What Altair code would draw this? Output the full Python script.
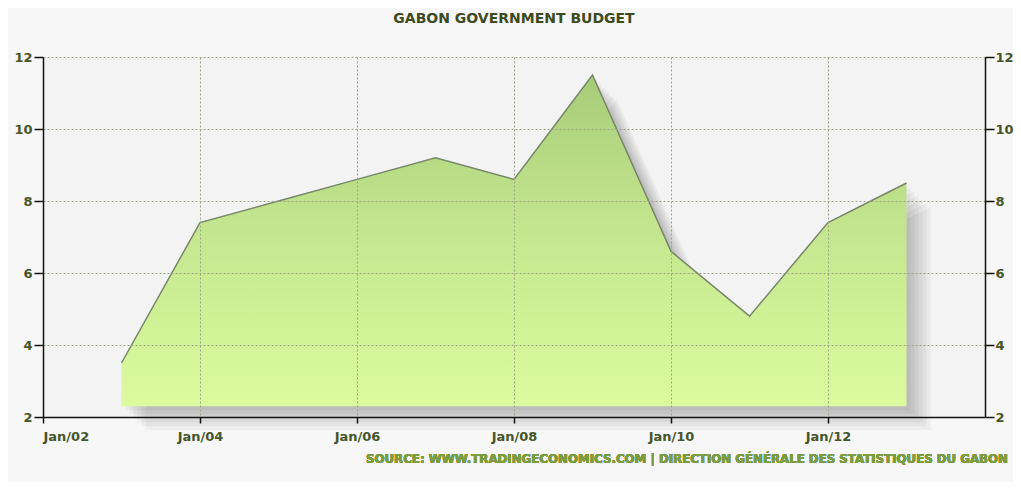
import altair as alt
import pandas as pd

years = [2003, 2004, 2005, 2006, 2007, 2008, 2009, 2010, 2011, 2012, 2013]
budget = [3.5, 7.4, 8.0, 8.6, 9.2, 8.6, 11.5, 6.6, 4.8, 7.4, 8.5]
baseline = 2.3
tick_years = [2002, 2004, 2006, 2008, 2010, 2012]
tick_labels = ["Jan/02", "Jan/04", "Jan/06", "Jan/08", "Jan/10", "Jan/12"]
y_ticks = [2, 4, 6, 8, 10, 12]

df = pd.DataFrame({"year": years, "value": budget, "base": [baseline] * len(years)})

label_expr = "[" + ",".join("'%s'" % t for t in tick_labels) + "][(datum.value - 2002) / 2]"

axis_common = dict(
    labelFont="DejaVu Sans", labelFontWeight="bold", labelFontSize=13,
    labelColor="#46552a", domainColor="#111111", domainWidth=1.5,
    tickColor="#111111", tickWidth=1.5,
    gridColor="#9ba48a", gridDash=[2, 2], gridWidth=1, zindex=1,
)

xscale = alt.Scale(domain=[2002, 2014], nice=False, zero=False)
xenc = alt.X("year:Q", scale=xscale,
             axis=alt.Axis(values=tick_years, labelExpr=label_expr, title=None,
                           tickSize=6, labelPadding=7, grid=True, **axis_common))

yscale = alt.Scale(domain=[2, 12], nice=False, zero=False)

base = alt.Chart(df)

shadows = [
    base.mark_area(color="#000000", opacity=0.04, xOffset=o, yOffset=o, y2Offset=o)
    .encode(x=xenc, y=alt.Y("value:Q", scale=yscale, axis=None), y2="base:Q")
    for o in [4, 8, 12, 16, 20, 24]
]

area = base.mark_area(
    opacity=1,
    color=alt.Gradient(gradient="linear", x1=0, y1=0, x2=0, y2=1,
                       stops=[alt.GradientStop(color="#a6cc78", offset=0),
                              alt.GradientStop(color="#c4e58e", offset=0.45),
                              alt.GradientStop(color="#dcfb9e", offset=1)]),
    line={"color": "#77876a", "strokeWidth": 1.5},
).encode(
    x=xenc,
    y=alt.Y("value:Q", scale=yscale,
            axis=alt.Axis(values=y_ticks, title=None, orient="left", tickSize=9,
                          labelPadding=2, grid=True, **axis_common)),
    y2="base:Q",
)

right = base.mark_line(opacity=0).encode(
    x=xenc,
    y=alt.Y("value:Q", scale=yscale,
            axis=alt.Axis(values=y_ticks, title=None, orient="right", tickSize=9,
                          labelPadding=1, grid=False, **axis_common)),
)

source = base.mark_text(
    text="SOURCE:  WWW.TRADINGECONOMICS.COM  |  DIRECTION GÉNÉRALE DES STATISTIQUES DU GABON",
    align="right", baseline="middle", font="DejaVu Sans", fontWeight="bold",
    fontSize=11.8, color="#7c9c42",
).encode(x=alt.value(965), y=alt.value(402))

chart = alt.layer(*shadows, area, right, source).resolve_scale(y="independent").properties(
    width=942, height=360,
    autosize=alt.AutoSizeParams(type="none"),
    padding={"left": 35, "top": 49, "right": 28, "bottom": 65},
    background="#f7f7f7",
    title=alt.TitleParams("GABON GOVERNMENT BUDGET", font="DejaVu Sans", fontWeight="bold",
                          fontSize=14, color="#3d4a1e", anchor="middle", offset=25),
).configure_view(stroke=None, fill="#f3f3f3")

chart.save("out.html", embed_options={"renderer": "svg", "actions": False})
